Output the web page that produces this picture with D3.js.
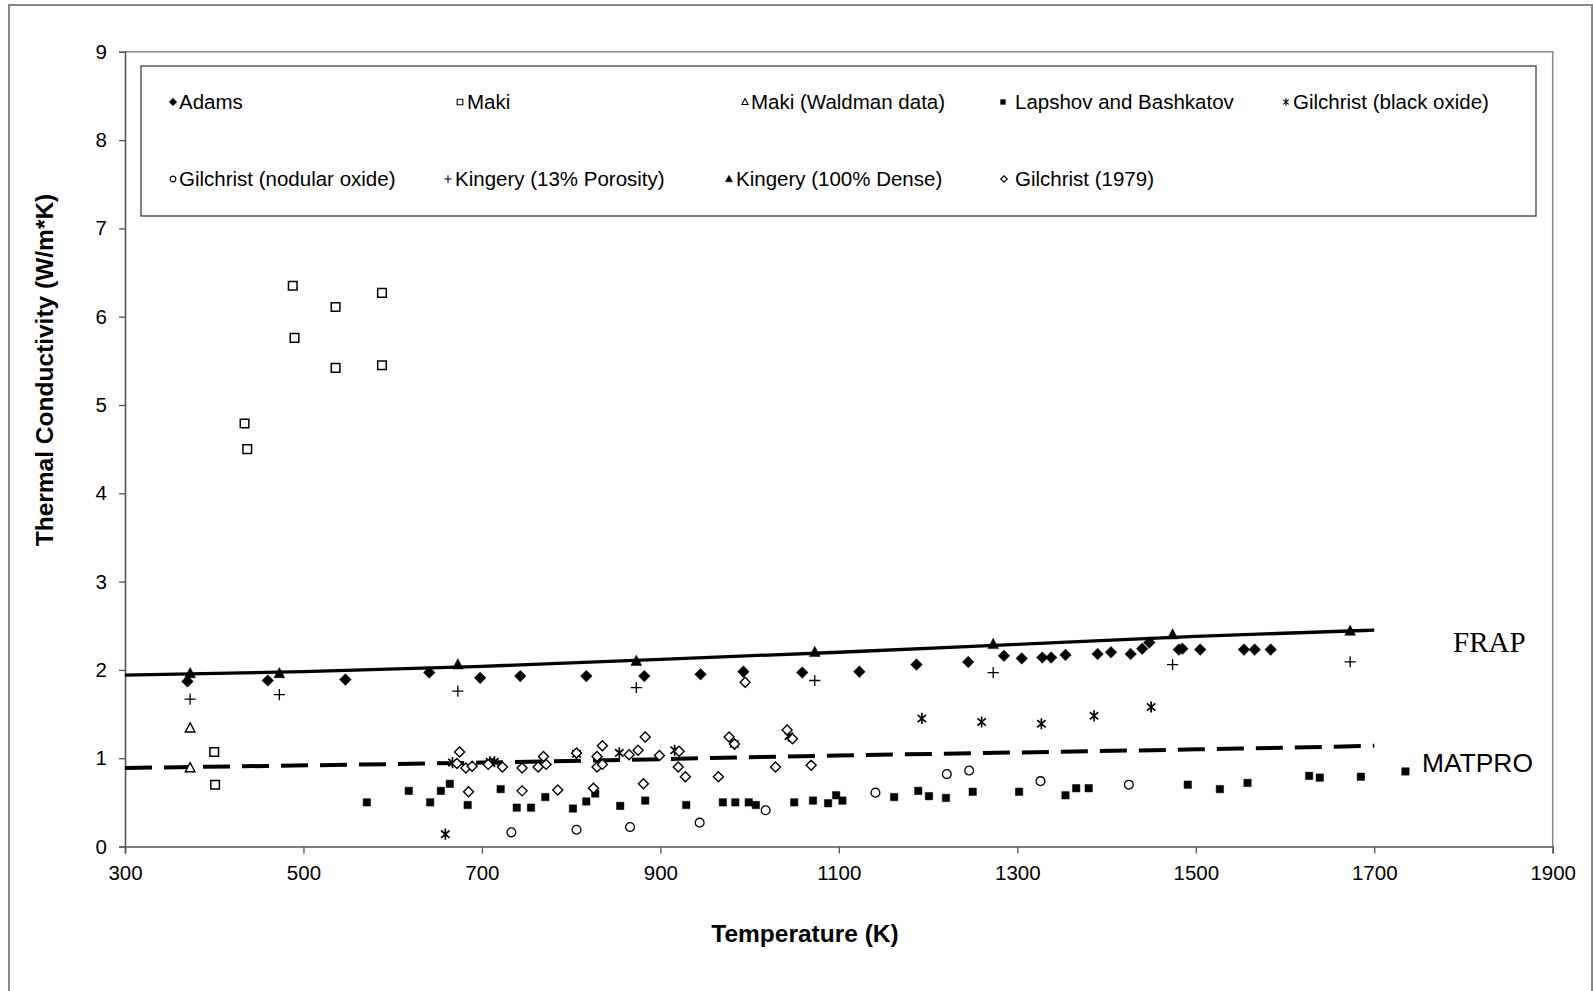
<!DOCTYPE html>
<html>
<head>
<meta charset="utf-8">
<script src="https://cdn.jsdelivr.net/npm/d3@7"></script>
<style>
  body { margin: 0; background: #fff; }
  svg { display: block; }
</style>
</head>
<body>
<svg id="chart"></svg>
<script>
var width = 1593, height = 991;

// data: [temperature K, conductivity W/m*K]
var adams = [[370,1.87],[460,1.88],[547,1.89],[641,1.97],[698,1.91],[743,1.93],[817,1.93],[882,1.93],
  [945,1.95],[993,1.98],[1059,1.97],[1123,1.98],[1187,2.06],[1245,2.09],[1285,2.16],[1305,2.13],
  [1328,2.14],[1338,2.14],[1354,2.17],[1390,2.18],[1405,2.20],[1427,2.18],[1440,2.24],[1448,2.31],
  [1481,2.23],[1485,2.24],[1505,2.23],[1554,2.23],[1566,2.23],[1584,2.23]];
var maki = [[434,4.79],[437,4.50],[488,6.35],[490,5.76],[536,6.11],[536,5.42],[588,6.27],[588,5.45],
  [400,1.07],[401,0.70]];
var makiWaldman = [[373,1.34],[373,0.89]];
var lapshov = [[571,0.50],[618,0.63],[642,0.50],[654,0.63],[664,0.71],[684,0.47],[721,0.65],[739,0.44],
  [755,0.44],[771,0.56],[802,0.43],[817,0.51],[827,0.60],[855,0.46],[883,0.52],[929,0.47],[970,0.50],
  [984,0.50],[999,0.50],[1007,0.47],[1050,0.50],[1071,0.52],[1088,0.49],[1097,0.58],[1104,0.52],
  [1162,0.56],[1189,0.63],[1201,0.57],[1220,0.55],[1250,0.62],[1302,0.62],[1354,0.58],[1366,0.66],
  [1380,0.66],[1491,0.70],[1527,0.65],[1558,0.72],[1627,0.80],[1639,0.78],[1685,0.79],[1735,0.85]];
var blackOxide = [[659,0.14],[667,0.95],[709,0.96],[714,0.96],[806,1.05],[854,1.06],[916,1.09],
  [983,1.16],[1044,1.25],[1193,1.45],[1260,1.41],[1327,1.39],[1386,1.48],[1450,1.58]];
var nodular = [[733,0.16],[806,0.19],[866,0.22],[944,0.27],[1018,0.41],[1141,0.61],[1221,0.82],
  [1246,0.86],[1326,0.74],[1425,0.70]];
var kingeryPorous = [[373,1.67],[473,1.72],[673,1.76],[873,1.80],[1073,1.88],[1273,1.97],[1474,2.06],[1673,2.09]];
var kingeryDense = [[373,1.96],[473,1.96],[673,2.06],[873,2.10],[1073,2.20],[1273,2.29],[1474,2.40],[1673,2.44]];
var gilchrist1979 = [[672,0.94],[675,1.07],[682,0.89],[685,0.62],[689,0.91],[707,0.93],[723,0.90],
  [745,0.89],[745,0.63],[763,0.90],[769,1.02],[772,0.93],[785,0.64],[806,1.06],[825,0.66],[829,1.02],
  [829,0.90],[835,1.14],[835,0.93],[865,1.04],[875,1.09],[883,1.24],[881,0.71],[899,1.03],[921,1.08],
  [920,0.90],[928,0.79],[965,0.79],[977,1.24],[983,1.16],[995,1.86],[1029,0.90],[1042,1.32],
  [1048,1.22],[1069,0.92]];
var frap = [[300,1.94],[500,1.98],[700,2.04],[900,2.12],[1100,2.20],[1300,2.29],[1500,2.38],[1700,2.45]];
var matpro = [[300,0.89],[700,0.95],[1100,1.03],[1500,1.10],[1700,1.14]];

var xTicks = [300,500,700,900,1100,1300,1500,1700,1900];
var yTicks = [0,1,2,3,4,5,6,7,8,9];
var seriesNames = ["Adams","Maki","Maki (Waldman data)","Lapshov and Bashkatov","Gilchrist (black oxide)",
  "Gilchrist (nodular oxide)","Kingery (13% Porosity)","Kingery (100% Dense)","Gilchrist (1979)"];

var SANS = "'Liberation Sans', Arial, sans-serif";

// marker shapes
var shapes = {
  diamond: function (s) { return "M0," + (-s) + "L" + s + ",0L0," + s + "L" + (-s) + ",0Z"; },
  square: function (s) { return "M" + (-s) + "," + (-s) + "h" + 2 * s + "v" + 2 * s + "h" + (-2 * s) + "Z"; },
  triangle: function (s) { return "M0," + (-s * 1.1) + "L" + s + "," + (s * 0.8) + "L" + (-s) + "," + (s * 0.8) + "Z"; },
  plus: function (s) { return "M" + (-s) + ",0H" + s + "M0," + (-s) + "V" + s; },
  star: function (s) {
    return "M0," + (-s) + "V" + s + "M" + (-s * 0.75) + "," + (-s * 0.65) + "L" + (s * 0.75) + "," + (s * 0.65) +
      "M" + (-s * 0.75) + "," + (s * 0.65) + "L" + (s * 0.75) + "," + (-s * 0.65);
  },
  circle: function (s) { return "M" + s + ",0A" + s + "," + s + " 0 1,1 " + (-s) + ",0A" + s + "," + s + " 0 1,1 " + s + ",0Z"; }
};

var series = [
  {data: adams, shape: "diamond", size: 5.8, fill: "#000", sw: 0.5},
  {data: maki, shape: "square", size: 4.3, fill: "#fff", sw: 1.5},
  {data: makiWaldman, shape: "triangle", size: 4.8, fill: "#fff", sw: 1.4},
  {data: lapshov, shape: "square", size: 3.7, fill: "#000", sw: 0.5},
  {data: blackOxide, shape: "star", size: 5.6, fill: "none", sw: 1.7},
  {data: nodular, shape: "circle", size: 4.4, fill: "#fff", sw: 1.3},
  {data: kingeryPorous, shape: "plus", size: 5.6, fill: "none", sw: 1.3},
  {data: kingeryDense, shape: "triangle", size: 5.4, fill: "#000", sw: 0.5},
  {data: gilchrist1979, shape: "diamond", size: 5, fill: "#fff", sw: 1.4}
];

var svg = d3.select("#chart").attr("width", width).attr("height", height);
svg.append("rect").attr("width", width).attr("height", height).attr("fill", "#fff");

// outer frame
svg.append("rect").attr("x", 9).attr("y", 5).attr("width", 1583).attr("height", 995)
  .attr("fill", "none").attr("stroke", "#888").attr("stroke-width", 2);

var x = d3.scaleLinear().domain([300, 1900]).range([125, 1552.7]);
var y = d3.scaleLinear().domain([0, 9]).range([846.5, 51.8]);

// plot area border (top / right)
svg.append("path")
  .attr("d", "M" + x(300) + "," + y(9) + "H" + x(1900) + "V" + y(0))
  .attr("fill", "none").attr("stroke", "#888").attr("stroke-width", 1.5);

var gx = svg.append("g").attr("transform", "translate(0," + y(0) + ")")
  .call(d3.axisBottom(x).tickValues(xTicks).tickSize(7).tickPadding(12).tickFormat(d3.format("d")));
var gy = svg.append("g").attr("transform", "translate(" + x(300) + ",0)")
  .call(d3.axisLeft(y).tickValues(yTicks).tickSize(6).tickPadding(12).tickFormat(d3.format("d")));
[gx, gy].forEach(function (g) {
  g.select(".domain").attr("stroke", "#555").attr("stroke-width", 1.6);
  g.selectAll(".tick line").attr("stroke", "#555").attr("stroke-width", 1.3);
  g.selectAll(".tick text").attr("font-family", SANS).attr("font-size", "20.5px").attr("fill", "#000");
});

// axis titles
svg.append("text").attr("x", 805).attr("y", 942).attr("text-anchor", "middle")
  .attr("font-family", SANS).attr("font-weight", "bold").attr("font-size", "24.5px")
  .text("Temperature (K)");
svg.append("text").attr("transform", "translate(53,370) rotate(-90)").attr("text-anchor", "middle")
  .attr("font-family", SANS).attr("font-weight", "bold").attr("font-size", "24.5px")
  .text("Thermal Conductivity (W/m*K)");

// correlation curves
var line = d3.line().x(function (d) { return x(d[0]); }).y(function (d) { return y(d[1]); })
  .curve(d3.curveMonotoneX);
svg.append("path").datum(frap).attr("d", line)
  .attr("fill", "none").attr("stroke", "#000").attr("stroke-width", 3.3);
svg.append("path").datum(matpro).attr("d", line)
  .attr("fill", "none").attr("stroke", "#000").attr("stroke-width", 4)
  .attr("stroke-dasharray", "27,12");

// data markers
series.forEach(function (s) {
  svg.append("g").selectAll("path").data(s.data).enter().append("path")
    .attr("transform", function (d) { return "translate(" + x(d[0]) + "," + y(d[1]) + ")"; })
    .attr("d", shapes[s.shape](s.size))
    .attr("fill", s.fill).attr("stroke", "#000").attr("stroke-width", s.sw);
});

// curve labels
svg.append("text").attr("x", 1453).attr("y", 652)
  .attr("font-family", "'Liberation Serif', 'Times New Roman', serif").attr("font-size", "29px")
  .text("FRAP");
svg.append("text").attr("x", 1422).attr("y", 772)
  .attr("font-family", SANS).attr("font-size", "26.4px")
  .text("MATPRO");

// legend: [marker x, text x, row y]
var legend = svg.append("g");
legend.append("rect").attr("x", 141).attr("y", 66).attr("width", 1395).attr("height", 150)
  .attr("fill", "#fff").attr("stroke", "#404040").attr("stroke-width", 1.3);
var legendPos = [[173, 179, 102], [460, 467, 102], [745, 751, 102], [1003, 1015, 102], [1286, 1293, 102],
  [173, 179, 179], [448, 455, 179], [729, 736, 179], [1004, 1015, 179]];
series.forEach(function (s, i) {
  var p = legendPos[i];
  legend.append("path")
    .attr("transform", "translate(" + p[0] + "," + p[2] + ")")
    .attr("d", shapes[s.shape](s.size * 0.65))
    .attr("fill", s.fill).attr("stroke", "#000").attr("stroke-width", Math.min(s.sw, 1.1));
  legend.append("text").attr("x", p[1]).attr("y", p[2]).attr("dy", "0.35em")
    .attr("font-family", SANS).attr("font-size", "20.5px")
    .text(seriesNames[i]);
});
</script>
</body>
</html>
